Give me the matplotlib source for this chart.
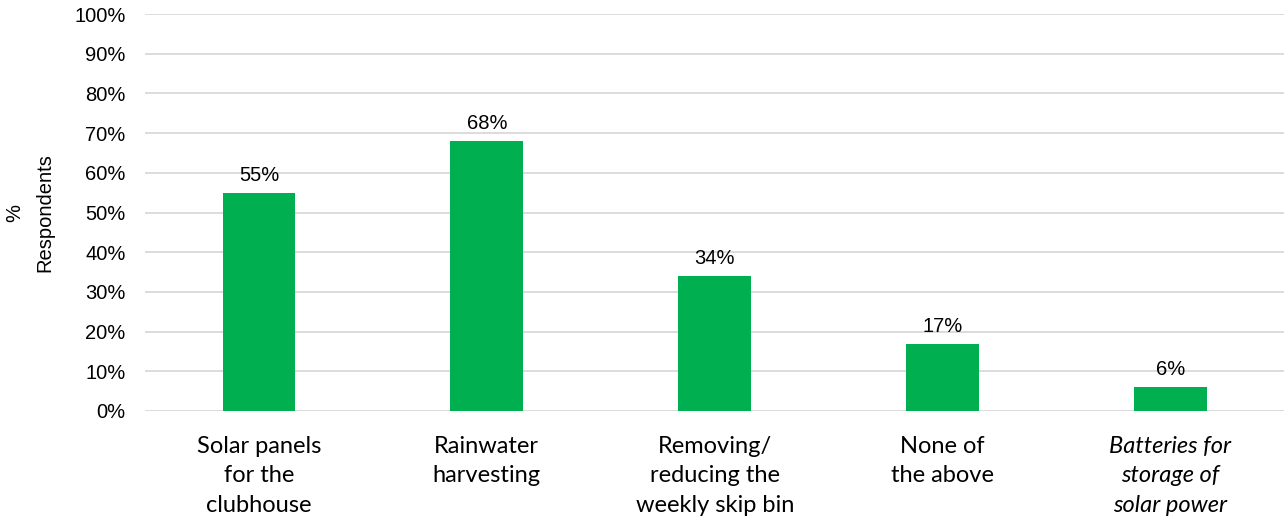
import matplotlib
matplotlib.use("Agg")
import matplotlib.pyplot as plt
from matplotlib.ticker import FuncFormatter

categories = ["Solar panels\nfor the\nclubhouse", "Rainwater\nharvesting",
              "Removing/\nreducing the\nweekly skip bin", "None of\nthe above",
              "Batteries for\nstorage of\nsolar power"]
values = [55, 68, 34, 17, 6]
italic_flags = [False, False, False, False, True]
yticks = [0, 10, 20, 30, 40, 50, 60, 70, 80, 90, 100]

green = "#00B050"
fig = plt.figure(figsize=(12.87, 5.19), dpi=100)
ax = fig.add_axes([0.1127, 0.2081, 0.8853, 0.7649])

x = list(range(len(categories)))
bars = ax.bar(x, values, width=0.32, color=green, zorder=3)
for xi, v in zip(x, values):
    ax.text(xi, v + 2.0, f"{v}%", ha="center", va="bottom",
            fontsize=14.5, family="Liberation Sans", color="#000000")

ax.set_ylim(0, 100)
ax.set_xlim(-0.5, len(categories) - 0.5)
ax.set_yticks(yticks)
ax.yaxis.set_major_formatter(FuncFormatter(lambda v, p: f"{int(v)}%"))
for lab in ax.get_yticklabels():
    lab.set_family("Liberation Sans")
    lab.set_fontsize(14.5)
ax.tick_params(axis="y", length=0, pad=14)
ax.tick_params(axis="x", length=0, pad=18)
ax.yaxis.grid(True, color="#D9D9D9", linewidth=1.3, zorder=0)
for s in ax.spines.values():
    s.set_visible(False)

ax.set_xticks(x)
ax.set_xticklabels(categories)
for lab, it in zip(ax.get_xticklabels(), italic_flags):
    lab.set_family("Lato")
    lab.set_fontsize(17)
    lab.set_linespacing(1.5)
    lab.set_style("italic" if it else "normal")

ax.set_ylabel("%\nRespondents", fontsize=14.5, family="Liberation Sans", labelpad=14, linespacing=1.75)

fig.savefig("out.png", dpi=100)
